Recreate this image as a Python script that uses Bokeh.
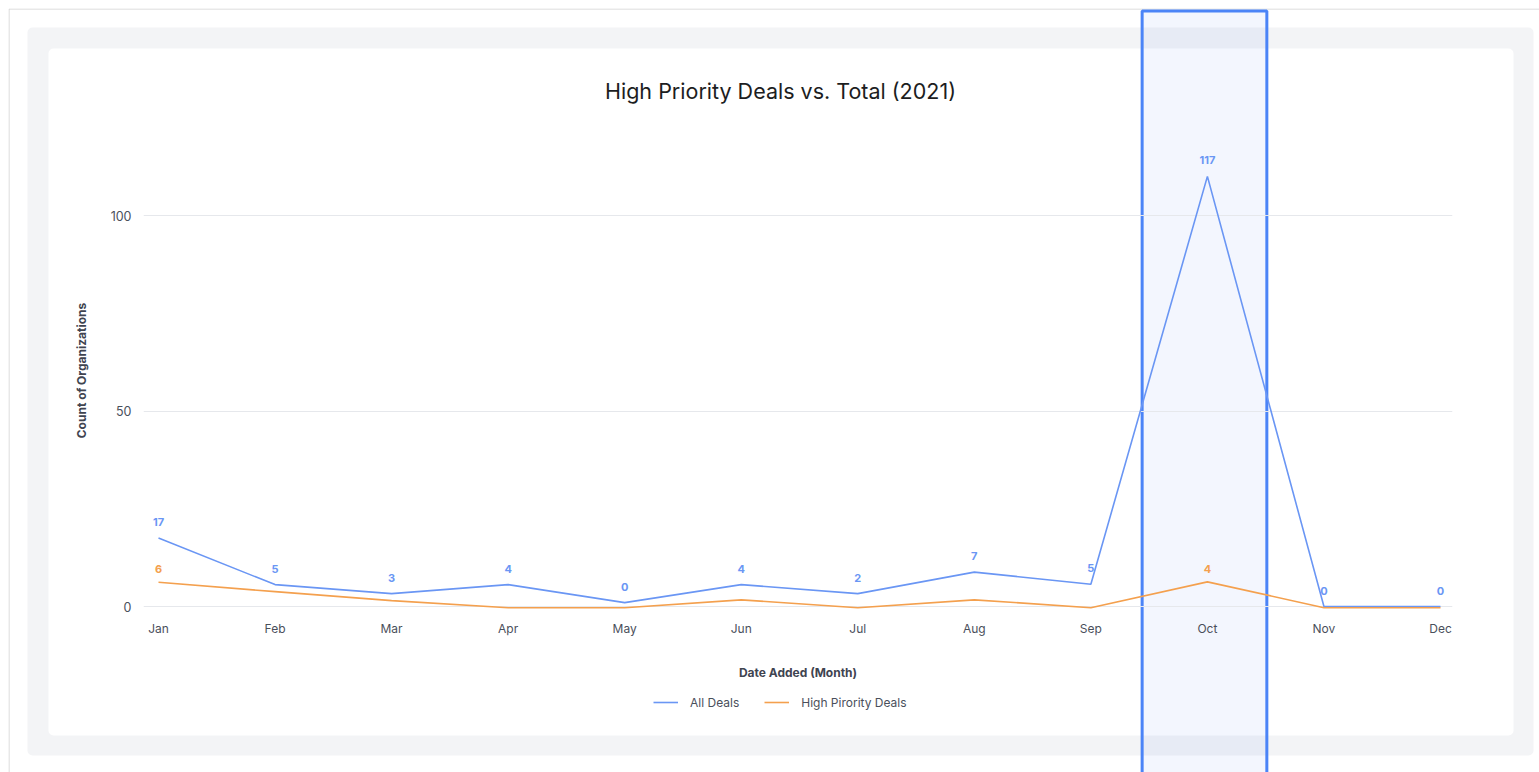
from bokeh.plotting import figure
from bokeh.models import (BoxAnnotation, Legend, LegendItem, FixedTicker, Range1d,
                          ColumnDataSource, Label)
from bokeh.embed import file_html
from bokeh.resources import INLINE
from bokeh.core.properties import value

# ---- data ----
months = ["Jan", "Feb", "Mar", "Apr", "May", "Jun", "Jul", "Aug", "Sep", "Oct", "Nov", "Dec"]
all_deals_labels = [17, 5, 3, 4, 0, 4, 2, 7, 5, 117, 0, 0]
all_deals_line = [17.5, 5.6, 3.3, 5.6, 1.0, 5.6, 3.3, 8.8, 5.7, 110.0, 0.0, 0.0]
high_priority_labels = ["6", "", "", "", "", "", "", "", "", "4", "", ""]
high_priority_line = [6.2, 3.8, 1.5, -0.3, -0.3, 1.7, -0.3, 1.7, -0.3, 6.3, -0.3, -0.3]
y_ticks = [0, 50, 100]
highlight_month = "Oct"
title_text = "High Priority Deals vs. Total (2021)"
series_names = ["All Deals", "High Pirority Deals"]

FONT = "Inter"
BLUE = "#6a96f4"
ORANGE = "#f4a04e"
TXT = "#4a4f5b"

W, H = 1531, 764
ML, MR, MT, MB = 135, 87, 122, 162          # frame borders of the chart figure
X0, X1 = -0.1287, 11.103
x = list(range(len(months)))

# ================= chart figure (foreground, transparent) =================
fg = figure(width=W, height=H, output_backend="svg", toolbar_location=None,
            x_range=Range1d(X0, X1), y_range=Range1d(-1.02, 121.74),
            min_border_left=ML, min_border_right=MR, min_border_top=MT,
            min_border_bottom=MB, border_fill_color=None,
            background_fill_color=None, outline_line_color=None,
            styles={"position": "absolute", "left": "8px", "top": "8px"})

src = ColumnDataSource(dict(x=x, all_line=all_deals_line, hp_line=high_priority_line,
                            all_lab=[str(v) for v in all_deals_labels],
                            hp_lab=high_priority_labels))

fg.line("x", "all_line", source=src, line_color=BLUE, line_width=1.6)
fg.line("x", "hp_line", source=src, line_color=ORANGE, line_width=1.6)

fg.text("x", "all_line", text="all_lab", source=src, text_align="center",
        text_baseline="middle", y_offset=-16, text_color=BLUE,
        text_font=value(FONT), text_font_size="11px", text_font_style="bold")
fg.text("x", "hp_line", text="hp_lab", source=src, text_align="center",
        text_baseline="middle", y_offset=-13, text_color=ORANGE,
        text_font=value(FONT), text_font_size="11px", text_font_style="bold")

fg.xaxis.ticker = FixedTicker(ticks=x)
fg.xaxis.major_label_overrides = {i: m for i, m in zip(x, months)}
fg.xaxis.axis_line_color = None
fg.xaxis.major_tick_line_color = None
fg.xaxis.minor_tick_line_color = None
fg.xaxis.major_label_standoff = 4
fg.xaxis.major_label_text_font = FONT
fg.xaxis.major_label_text_font_size = "12px"
fg.xaxis.major_label_text_color = TXT
fg.xaxis.axis_label = "Date Added (Month)"
fg.xaxis.axis_label_standoff = 26
fg.xaxis.axis_label_text_font = FONT
fg.xaxis.axis_label_text_font_size = "12px"
fg.xaxis.axis_label_text_font_style = "bold"
fg.xaxis.axis_label_text_color = "#3f4450"

fg.yaxis.ticker = FixedTicker(ticks=y_ticks)
fg.yaxis.axis_line_color = None
fg.yaxis.major_tick_line_color = None
fg.yaxis.minor_tick_line_color = None
fg.yaxis.major_label_standoff = 6
fg.yaxis.major_label_text_font = FONT
fg.yaxis.major_label_text_font_size = "12.5px"
fg.yaxis.major_label_text_color = TXT
fg.yaxis.axis_label = "Count of Organizations"
fg.yaxis.axis_label_standoff = 19
fg.yaxis.axis_label_text_font = FONT
fg.yaxis.axis_label_text_font_size = "12px"
fg.yaxis.axis_label_text_font_style = "bold"
fg.yaxis.axis_label_text_color = "#3f4450"

fg.xgrid.grid_line_color = None
fg.ygrid.ticker = FixedTicker(ticks=y_ticks)
fg.ygrid.grid_line_color = "#e6e8ec"
fg.ygrid.grid_line_width = 1

# ================= background figure (card, title, legend, highlight) =================
px_per_unit = (W - ML - MR) / (X1 - X0)
BX0 = X0 - ML / px_per_unit
BX1 = BX0 + W / px_per_unit

bg = figure(width=W, height=H, output_backend="svg", toolbar_location=None,
            x_range=Range1d(BX0, BX1), y_range=Range1d(H, 0),
            x_axis_type=None, y_axis_type=None, min_border=0,
            min_border_left=0, min_border_right=0, min_border_top=0, min_border_bottom=0,
            border_fill_color="white", background_fill_color="white",
            outline_line_color=None,
            styles={"position": "absolute", "left": "8px", "top": "8px"})
bg.grid.visible = False

def screen_box(l, r, t, b, **kw):
    return BoxAnnotation(left=l, right=r, top=t, bottom=b, left_units="screen",
                         right_units="screen", top_units="data", bottom_units="data",
                         fill_alpha=1, line_alpha=1, **kw)

bg.add_layout(screen_box(0.5, W + 10, 0.5, H + 10, fill_color="white",
                         line_color="#d2d2d2", line_width=1, level="underlay"))
bg.add_layout(screen_box(19, 1525, 19, 747, fill_color="#f3f4f6", line_color=None,
                         border_radius=5, level="underlay"))
bg.add_layout(screen_box(40, 1505, 40, 727, fill_color="white", line_color=None,
                         border_radius=5, level="underlay"))

bg.add_layout(Label(x=772, y=82, x_units="screen", y_units="data", text=title_text,
                    text_align="center", text_baseline="middle", text_font=FONT,
                    text_font_size="21.5px", text_color="#1c1d21"))

# legend glyph renderers (kept outside the visible range; they only style the legend)
lx = [BX0 - 10, BX0 - 9]
r1 = bg.line(lx, [0, 0], line_color=BLUE, line_width=1.6)
r2 = bg.line(lx, [0, 0], line_color=ORANGE, line_width=1.6)
legend = Legend(items=[LegendItem(label=series_names[0], renderers=[r1]),
                       LegendItem(label=series_names[1], renderers=[r2])],
                orientation="horizontal", location=(645, H - 702),
                border_line_color=None, background_fill_alpha=0,
                glyph_width=25, glyph_height=16, label_height=16,
                label_standoff=12, spacing=25, padding=0, margin=0,
                label_text_font=FONT, label_text_font_size="12px",
                label_text_color=TXT, label_text_baseline="middle")
bg.add_layout(legend)

hi = months.index(highlight_month)
bg.add_layout(BoxAnnotation(left=hi - 0.56, right=hi + 0.51, top=2.5, bottom=H + 10,
                            top_units="data", bottom_units="data",
                            fill_color="#4f86f7", fill_alpha=0.07,
                            line_color="#4b84f7", line_alpha=1, line_width=3,
                            level="overlay"))

open("out.html", "w").write(file_html([bg, fg], INLINE))
